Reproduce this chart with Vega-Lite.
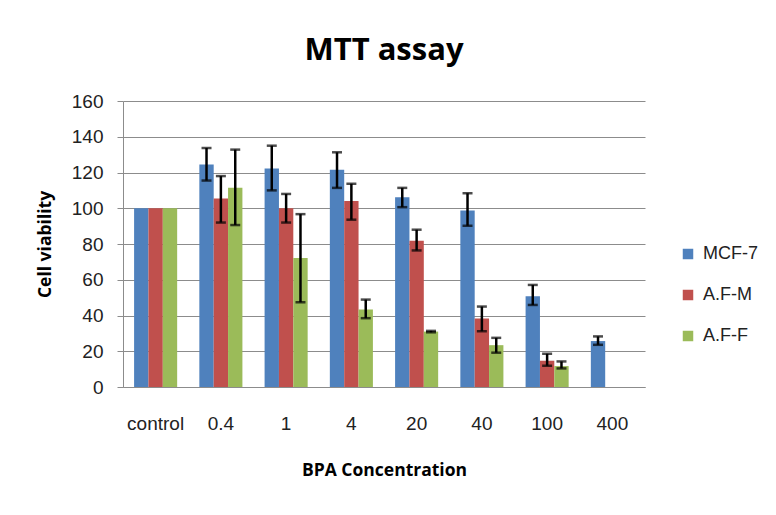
{
  "$schema": "https://vega.github.io/schema/vega-lite/v6.json",
  "autosize": {"type": "none"},
  "width": 522,
  "height": 286,
  "padding": {"left": 123, "top": 101, "right": 131, "bottom": 128},
  "background": "white",
  "title": {"text": "MTT assay", "fontSize": 31, "fontWeight": "bold", "font": "Open Sans", "color": "#000000", "offset": 25, "anchor": "middle"},
  "config": {
    "view": {"stroke": null},
    "font": "Liberation Sans",
    "axis": {"labelFont": "Liberation Sans", "labelFontSize": 19, "labelColor": "#222222", "titleFont": "Open Sans", "titleFontSize": 17.5, "titleFontWeight": "bold", "titleColor": "#000000"},
    "axisY": {"values": [0, 20, 40, 60, 80, 100, 120, 140, 160], "labelOverlap": false, "grid": true, "gridColor": "#8c8c8c", "gridWidth": 1, "domainColor": "#8c8c8c", "tickColor": "#8c8c8c", "tickSize": 6, "labelPadding": 14, "titlePadding": 17}
  },
  "data": {"values": [
    {"conc": "control", "group": "MCF-7", "value": 100},
    {"conc": "control", "group": "A.F-M", "value": 100},
    {"conc": "control", "group": "A.F-F", "value": 100},
    {"conc": "0.4", "group": "MCF-7", "value": 124.5, "lo": 115.5, "hi": 133.7},
    {"conc": "0.4", "group": "A.F-M", "value": 105.5, "lo": 92, "hi": 118},
    {"conc": "0.4", "group": "A.F-F", "value": 111.4, "lo": 90.6, "hi": 132.8},
    {"conc": "1", "group": "MCF-7", "value": 122.2, "lo": 110, "hi": 135},
    {"conc": "1", "group": "A.F-M", "value": 100, "lo": 92, "hi": 108},
    {"conc": "1", "group": "A.F-F", "value": 72.2, "lo": 47.4, "hi": 96.7},
    {"conc": "4", "group": "MCF-7", "value": 121.5, "lo": 111.4, "hi": 131.3},
    {"conc": "4", "group": "A.F-M", "value": 104, "lo": 93.6, "hi": 113.7},
    {"conc": "4", "group": "A.F-F", "value": 43.3, "lo": 38.5, "hi": 48.9},
    {"conc": "20", "group": "MCF-7", "value": 106.2, "lo": 100.6, "hi": 111.4},
    {"conc": "20", "group": "A.F-M", "value": 81.8, "lo": 76.4, "hi": 88},
    {"conc": "20", "group": "A.F-F", "value": 31, "lo": 30.6, "hi": 31.4},
    {"conc": "40", "group": "MCF-7", "value": 98.8, "lo": 90.2, "hi": 108.4},
    {"conc": "40", "group": "A.F-M", "value": 38.3, "lo": 31.2, "hi": 45},
    {"conc": "40", "group": "A.F-F", "value": 23.4, "lo": 19.2, "hi": 27.5},
    {"conc": "100", "group": "MCF-7", "value": 50.8, "lo": 45.9, "hi": 57.1},
    {"conc": "100", "group": "A.F-M", "value": 14.7, "lo": 11.9, "hi": 18.6},
    {"conc": "100", "group": "A.F-F", "value": 11.7, "lo": 10.4, "hi": 14.3},
    {"conc": "400", "group": "MCF-7", "value": 25.7, "lo": 23.6, "hi": 28.3}
  ]},
  "encoding": {
    "x": {"field": "conc", "type": "nominal", "sort": ["control", "0.4", "1", "4", "20", "40", "100", "400"],
      "scale": {"paddingInner": 0.34, "paddingOuter": 0.17},
      "axis": {"title": "BPA Concentration", "labelAngle": 0, "ticks": false, "domainColor": "#8c8c8c", "domainWidth": 1, "labelPadding": 27, "titlePadding": 28}},
    "xOffset": {"field": "group", "type": "nominal", "sort": ["MCF-7", "A.F-M", "A.F-F"], "scale": {"domain": ["MCF-7", "A.F-M", "A.F-F"], "paddingInner": 0, "paddingOuter": 0}}
  },
  "layer": [
    {
      "mark": {"type": "bar"},
      "encoding": {
        "y": {"field": "value", "type": "quantitative", "scale": {"domain": [0, 160]}, "title": "Cell viability"},
        "color": {"field": "group", "type": "nominal", "sort": ["MCF-7", "A.F-M", "A.F-F"],
          "scale": {"domain": ["MCF-7", "A.F-M", "A.F-F"], "range": ["#4F81BD", "#C0504D", "#9BBB59"]},
          "legend": {"title": null, "orient": "none", "legendX": 556, "legendY": 144, "symbolType": "square", "symbolSize": 110, "symbolStrokeWidth": 0, "labelFontSize": 18, "labelFont": "Liberation Sans", "labelColor": "#222222", "rowPadding": 23, "labelOffset": 6}}
      }
    },
    {
      "transform": [{"filter": "isValid(datum.lo)"}],
      "mark": {"type": "rule", "color": "#000000", "strokeWidth": 2.5},
      "encoding": {"y": {"field": "lo", "type": "quantitative", "title": "Cell viability"}, "y2": {"field": "hi"}}
    },
    {
      "transform": [{"filter": "isValid(datum.lo)"}],
      "mark": {"type": "tick", "color": "#000000", "size": 10, "thickness": 2.5},
      "encoding": {"y": {"field": "lo", "type": "quantitative", "title": "Cell viability"}}
    },
    {
      "transform": [{"filter": "isValid(datum.lo)"}],
      "mark": {"type": "tick", "color": "#000000", "size": 10, "thickness": 2.5},
      "encoding": {"y": {"field": "hi", "type": "quantitative", "title": "Cell viability"}}
    }
  ]
}
